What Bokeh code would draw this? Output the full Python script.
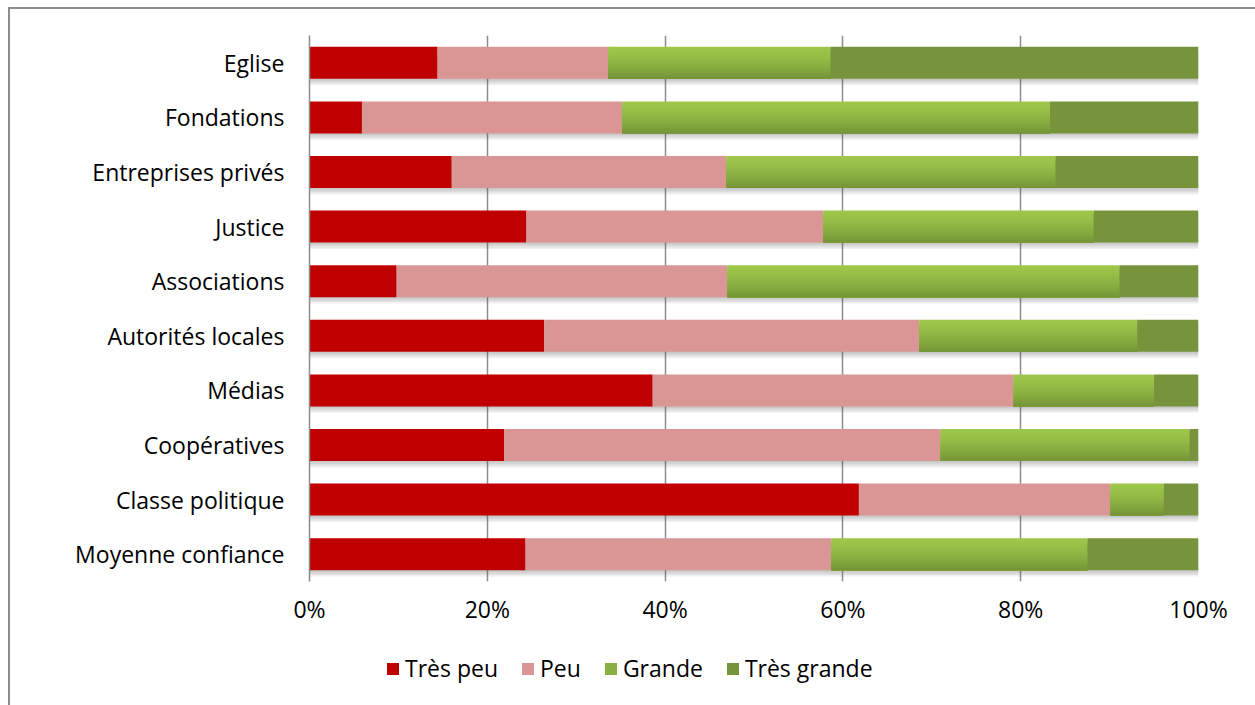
from bokeh.plotting import figure
from bokeh.layouts import column
from bokeh.models import (Range1d, FixedTicker, PrintfTickFormatter, Legend,
                          LegendItem, ColumnDataSource)
from bokeh.embed import file_html
from bokeh.resources import INLINE

# ---- data (percent) ----
categories = ["Eglise", "Fondations", "Entreprises privés", "Justice", "Associations",
              "Autorités locales", "Médias", "Coopératives", "Classe politique",
              "Moyenne confiance"]
tres_peu = [14.4, 5.9, 16.0, 24.4, 9.8, 26.4, 38.6, 21.9, 61.8, 24.3]
peu = [19.2, 29.3, 30.9, 33.4, 37.2, 42.2, 40.6, 49.1, 28.3, 34.4]
grande = [25.0, 48.1, 37.0, 30.4, 44.1, 24.5, 15.8, 28.0, 6.0, 28.8]
tres_grande = [41.4, 16.7, 16.1, 11.8, 8.9, 6.9, 5.0, 1.0, 3.9, 12.5]
series_names = ["Très peu", "Peu", "Grande", "Très grande"]
x_ticks = [0, 20, 40, 60, 80, 100]

# ---- styling ----
FONT = "Open Sans"
FS = "23px"
C_TP = "#C00000"
C_PEU = "#DA9694"
C_GR_TOP = (157, 198, 74)
C_GR_BOT = (118, 150, 56)
C_GR_MID = "#8AB043"
C_TG = "#77933C"
GRID = "#8c8c8c"

n = len(categories)
ypos = [n - 1 - i for i in range(n)]
H = 0.586
PX = 546 / n  # pixels per category unit

p = figure(width=1245, height=620, output_backend="svg", toolbar_location=None,
           x_range=Range1d(0, 100), y_range=Range1d(-0.5, n - 0.5),
           min_border_left=299, min_border_right=57, min_border_top=26,
           min_border_bottom=48)
p.outline_line_color = None
p.background_fill_color = "white"
p.border_fill_color = "white"

# stacked extents
l_tp = [0] * n
r_tp = [a for a in tres_peu]
l_peu = r_tp
r_peu = [a + b for a, b in zip(r_tp, peu)]
l_gr = r_peu
r_gr = [a + b for a, b in zip(r_peu, grande)]
l_tg = r_gr
r_tg = [a + b for a, b in zip(r_gr, tres_grande)]

# drop shadows
for j in range(1, 5):
    off = j * 1.6 / PX
    p.hbar(y=[y - off for y in ypos], height=H, left=0,
           right=[r + j * 0.12 for r in r_tg], fill_color="#555555",
           fill_alpha=0.085, line_color=None)

r1 = p.hbar(y=ypos, height=H, left=l_tp, right=r_tp, fill_color=C_TP, line_color=None)
r2 = p.hbar(y=ypos, height=H, left=l_peu, right=r_peu, fill_color=C_PEU, line_color=None)

# gradient for "Grande" via nested stripes (each reaching the bar bottom)
NS = 16
ys, hs, ls, rs, cs = [], [], [], [], []
for i in range(n):
    top = ypos[i] + H / 2
    bot = ypos[i] - H / 2
    for k in range(NS):
        t = (k / (NS - 1)) ** 1.4
        c = tuple(int(round(a + (b - a) * t)) for a, b in zip(C_GR_TOP, C_GR_BOT))
        st = top - k * H / NS
        ys.append((st + bot) / 2)
        hs.append(st - bot)
        ls.append(l_gr[i])
        rs.append(r_gr[i])
        cs.append("#%02x%02x%02x" % c)
src = ColumnDataSource(dict(y=ys, h=hs, left=ls, right=rs, color=cs))
r3 = p.hbar(y="y", height="h", left="left", right="right",
            fill_color="color", line_color=None, source=src)
r4 = p.hbar(y=ypos, height=H, left=l_tg, right=r_tg, fill_color=C_TG, line_color=None)

# axes
p.xaxis.ticker = FixedTicker(ticks=x_ticks)
p.xaxis.formatter = PrintfTickFormatter(format="%d%%")
p.xaxis.axis_line_color = None
p.xaxis.major_tick_line_color = None
p.xaxis.minor_tick_line_color = None
p.xaxis.major_tick_out = 0
p.xaxis.major_label_standoff = 11
p.xaxis.major_label_text_font = FONT
p.xaxis.major_label_text_font_size = FS
p.xaxis.major_label_text_color = "black"

p.yaxis.ticker = FixedTicker(ticks=ypos)
p.yaxis.major_label_overrides = {y: c for y, c in zip(ypos, categories)}
p.yaxis.axis_line_color = GRID
p.yaxis.axis_line_width = 1.5
p.yaxis.major_tick_line_color = None
p.yaxis.minor_tick_line_color = None
p.yaxis.major_tick_out = 0
p.yaxis.major_label_standoff = 25
p.yaxis.major_label_text_font = FONT
p.yaxis.major_label_text_font_size = FS
p.yaxis.major_label_text_color = "black"

p.xgrid.ticker = FixedTicker(ticks=x_ticks)
p.xgrid.grid_line_color = GRID
p.xgrid.grid_line_width = 1.5
p.ygrid.grid_line_color = None

# ---- legend strip (separate small figure below the chart) ----
lg = figure(width=1245, height=76, output_backend="svg", toolbar_location=None,
            x_range=Range1d(0, 1), y_range=Range1d(0, 1),
            x_axis_type=None, y_axis_type=None,
            min_border_left=0, min_border_right=0, min_border_top=0,
            min_border_bottom=0)
lg.outline_line_color = None
lg.grid.grid_line_color = None
lg.border_fill_color = "white"
lg.background_fill_color = "white"
# legend-only renderers, placed outside the visible range
swatch_colors = [C_TP, C_PEU, C_GR_MID, C_TG]
dummies = [lg.hbar(y=[-5], height=0.5, left=[0], right=[1], fill_color=c, line_color=None)
           for c in swatch_colors]

legend = Legend(items=[LegendItem(label=s, renderers=[d])
                       for s, d in zip(series_names, dummies)],
                orientation="horizontal", location=(76, 21))
legend.glyph_width = 15
legend.glyph_height = 15
legend.label_standoff = 5
legend.spacing = 22
legend.padding = 0
legend.margin = 0
legend.border_line_color = None
legend.background_fill_alpha = 0
legend.label_text_font = FONT
legend.label_text_font_size = FS
legend.label_text_color = "black"
lg.add_layout(legend, "center")

layout = column(p, lg, styles={"margin-left": "8px", "margin-top": "7px",
                               "border-left": "2px solid #8c8c8c",
                               "border-top": "2px solid #8c8c8c"})

open("out.html", "w").write(file_html(layout, INLINE))
